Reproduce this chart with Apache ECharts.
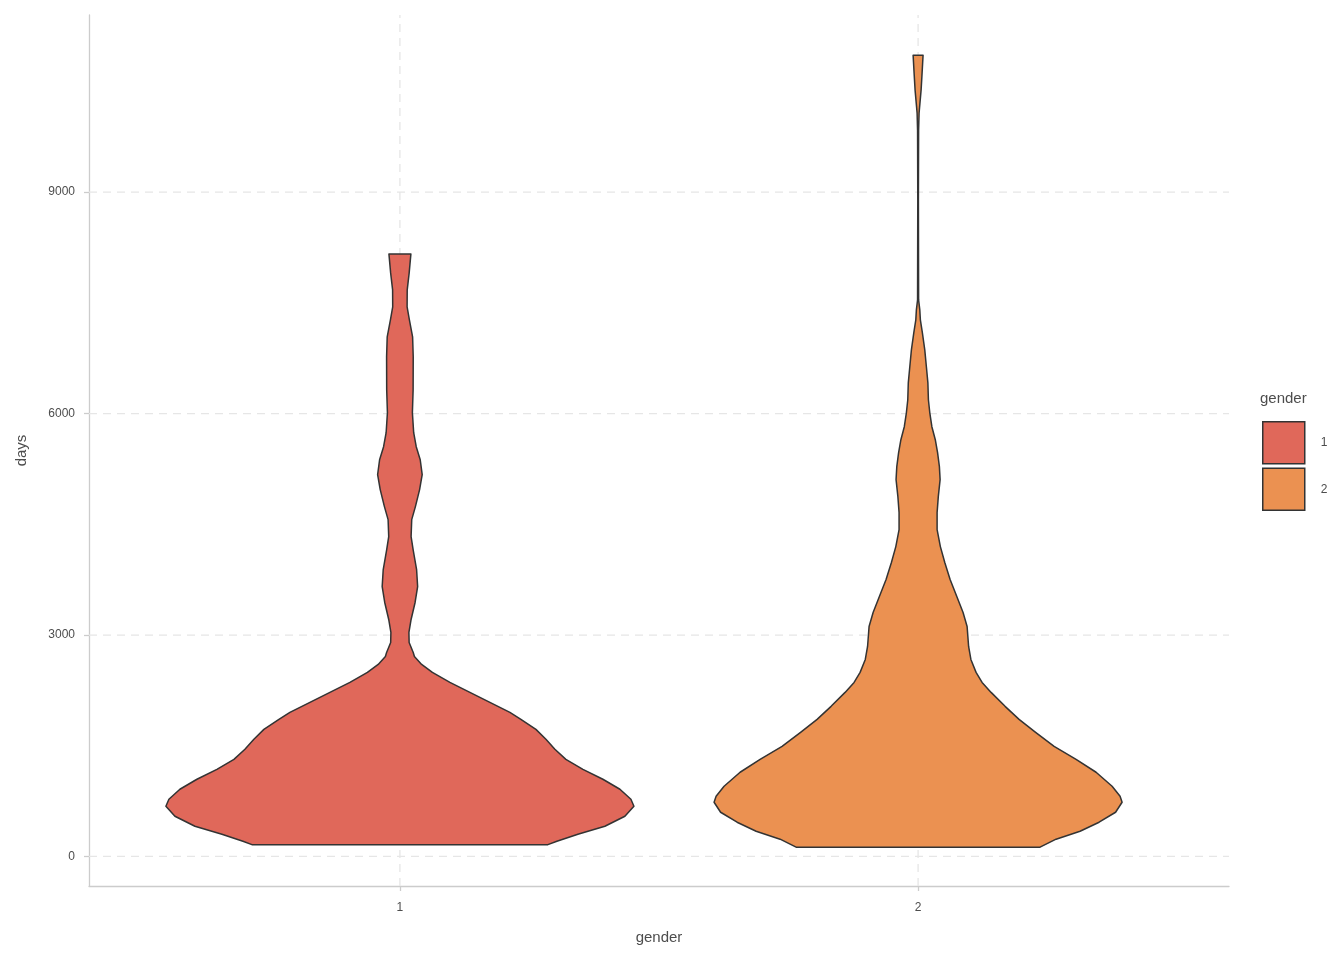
<!DOCTYPE html>
<html><head><meta charset="utf-8">
<script src="https://cdn.jsdelivr.net/npm/echarts@6/dist/echarts.min.js"></script>
<style>html,body{margin:0;padding:0;background:#fff}#c{width:1344px;height:960px}</style>
</head><body><div id="c"></div>
<script>
// ---- data ----
const categories = ['1', '2'];
const xTicks = [1, 2];
const yTicks = [0, 3000, 6000, 9000];
// violin outlines: days (bottom -> top) and half width in gender-axis units
const days1 = [160,207,302,410,545,681,775,911,1046,1181,1316,1452,1587,1722,1858,1952,2088,2223,2358,2494,2602,2710,2764,2900,3035,3211,3441,3657,3887,4158,4334,4564,4740,4970,5173,5375,5551,5741,6011,6323,6769,7040,7270,7446,7676,7906,8163];
const halfWidth1 = [0.2856,0.3030,0.3435,0.3956,0.4342,0.4516,0.4458,0.4246,0.3917,0.3532,0.3203,0.2991,0.2818,0.2625,0.2335,0.2123,0.1737,0.1351,0.0965,0.0627,0.0419,0.0280,0.0257,0.0178,0.0174,0.0216,0.0293,0.0342,0.0322,0.0255,0.0216,0.0228,0.0299,0.0380,0.0430,0.0392,0.0315,0.0266,0.0241,0.0255,0.0257,0.0245,0.0183,0.0139,0.0141,0.0179,0.0212];
const days2 = [126,234,342,464,599,735,816,951,1141,1316,1492,1682,1858,2034,2223,2358,2494,2669,2845,3116,3305,3522,3752,3982,4198,4428,4658,4875,5105,5281,5470,5646,5822,6011,6187,6417,6634,6864,7094,7270,7405,7540,8893,9840,10070,10152,10382,10612,10855];
const halfWidth2 = [0.2354,0.2663,0.3126,0.3493,0.3811,0.3937,0.3898,0.3744,0.3435,0.3049,0.2625,0.2268,0.1949,0.1679,0.1409,0.1235,0.1119,0.1019,0.0975,0.0946,0.0868,0.0747,0.0618,0.0515,0.0430,0.0367,0.0367,0.0390,0.0425,0.0411,0.0376,0.0332,0.0266,0.0226,0.0199,0.0189,0.0160,0.0129,0.0083,0.0044,0.0033,0.0010,0.0006,0.0010,0.0019,0.0029,0.0058,0.0077,0.0096];
const violinColors = ['#E0685A', '#EB9151'];

// ---- chart ----
const chart = echarts.init(document.getElementById('c'), null, {renderer: 'canvas'});
const X_MIN = 0.4, X_MAX = 2.6, Y_MIN = -400, Y_MAX = 11400;
const FONT = 'Liberation Sans, Arial, sans-serif';

function violinRender(daysArr, hwArr) {
  return function (params, api) {
    const g = api.value(0);
    const pts = [];
    for (let i = 0; i < daysArr.length; i++) pts.push(api.coord([g + hwArr[i], daysArr[i]]));
    for (let i = daysArr.length - 1; i >= 0; i--) pts.push(api.coord([g - hwArr[i], daysArr[i]]));
    return {
      type: 'polygon',
      shape: {points: pts},
      style: {fill: api.visual('color'), stroke: '#333333', lineWidth: 1.5, lineJoin: 'round'}
    };
  };
}

const gridStyle = {stroke: '#e6e6e6', lineWidth: 1.3, lineDash: [8, 6]};

const option = {
  backgroundColor: '#ffffff',
  animation: false,
  title: [{
    text: 'gender', left: 1260, top: 391, padding: 0,
    textStyle: {fontFamily: FONT, fontSize: 15, fontWeight: 'normal', color: '#4d4d4d'}
  }],
  legend: {
    data: categories,
    orient: 'vertical',
    left: 1262, top: 421, padding: 0,
    itemWidth: 42, itemHeight: 42, itemGap: 3,
    icon: 'rect',
    itemStyle: {borderColor: '#333333', borderWidth: 1.5},
    textStyle: {fontFamily: FONT, fontSize: 12, color: '#4d4d4d', padding: [0, 0, 0, 11]},
    selectedMode: false
  },
  grid: {left: 89, right: 115, top: 15, bottom: 74, containLabel: false},
  xAxis: {
    type: 'value', min: X_MIN, max: X_MAX,
    name: 'gender', nameLocation: 'middle', nameGap: 44,
    nameTextStyle: {fontFamily: FONT, fontSize: 15, color: '#4d4d4d'},
    axisLine: {show: true, onZero: false, lineStyle: {color: '#cccccc', width: 1.3}},
    axisTick: {show: true, length: 5, customValues: xTicks, lineStyle: {color: '#cccccc', width: 1.3}},
    axisLabel: {customValues: xTicks, margin: 16, fontFamily: FONT, fontSize: 12, color: '#4d4d4d',
      formatter: v => categories[Math.round(v) - 1] || ''},
    splitLine: {show: false}
  },
  yAxis: {
    type: 'value', min: Y_MIN, max: Y_MAX,
    name: 'days', nameLocation: 'middle', nameGap: 60, nameRotate: 90,
    nameTextStyle: {fontFamily: FONT, fontSize: 15, color: '#4d4d4d'},
    axisLine: {show: true, onZero: false, lineStyle: {color: '#cccccc', width: 1.3}},
    axisTick: {show: true, length: 5, customValues: yTicks, lineStyle: {color: '#cccccc', width: 1.3}},
    axisLabel: {customValues: yTicks, margin: 14, fontFamily: FONT, fontSize: 12, color: '#4d4d4d',
      formatter: v => String(v)},
    splitLine: {show: false}
  },
  series: [
    {
      name: 'hgrid', type: 'custom', z: 1, silent: true,
      data: yTicks.map(v => [v]),
      renderItem: (params, api) => {
        const v = api.value(0);
        const a = api.coord([X_MIN, v]), b = api.coord([X_MAX, v]);
        return {type: 'line', shape: {x1: a[0], y1: a[1], x2: b[0], y2: b[1]}, style: gridStyle};
      },
      encode: {y: 0}
    },
    {
      name: 'vgrid', type: 'custom', z: 1, silent: true,
      data: xTicks.map(v => [v]),
      renderItem: (params, api) => {
        const v = api.value(0);
        const a = api.coord([v, Y_MIN]), b = api.coord([v, Y_MAX]);
        return {type: 'line', shape: {x1: a[0], y1: a[1], x2: b[0], y2: b[1]}, style: gridStyle};
      },
      encode: {x: 0}
    },
    {
      name: categories[0], type: 'custom', z: 3,
      itemStyle: {color: violinColors[0]},
      data: [[1, 0]], encode: {x: 0, y: 1},
      renderItem: violinRender(days1, halfWidth1)
    },
    {
      name: categories[1], type: 'custom', z: 3,
      itemStyle: {color: violinColors[1]},
      data: [[2, 0]], encode: {x: 0, y: 1},
      renderItem: violinRender(days2, halfWidth2)
    }
  ]
};
chart.setOption(option);
</script>
</body></html>
